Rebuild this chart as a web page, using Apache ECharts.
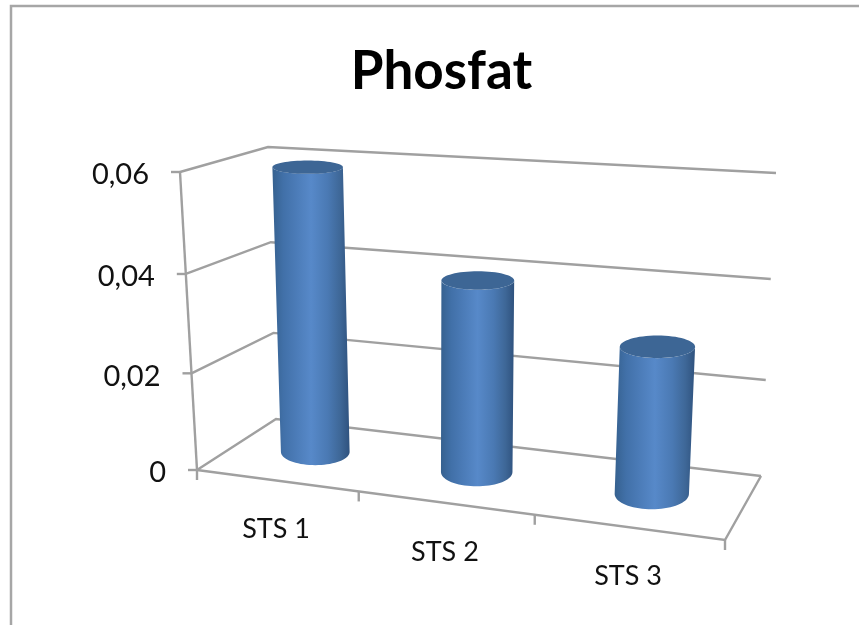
<!DOCTYPE html>
<html>
<head>
<meta charset="utf-8">
<style>html,body{margin:0;padding:0;background:#fff}#c{width:859px;height:625px;filter:blur(0.45px)}</style>
<script src="https://cdn.jsdelivr.net/npm/echarts@6/dist/echarts.min.js"></script>
</head>
<body>
<div id="c"></div>
<script>
const titleText = 'Phosfat';
const categories = ['STS 1', 'STS 2', 'STS 3'];
const values = [0.0592, 0.0392, 0.0293];
const yTicks = [0, 0.02, 0.04, 0.06];
const yTickLabels = ['0', '0,02', '0,04', '0,06'];

// Picture-plane corners of the 3D box: [x, y] at value 0 and at axis max
const FL = [[197, 470], [180, 172]];
const FR = [[725, 540], [745, 208]];
const BL = [[276, 419], [268, 147]];
const BR = [[761, 476], [776, 173]];
const GRID = '#a0a0a0';
const FONT = 'Lato';

const lerp = (a, b, t) => [a[0] + (b[0] - a[0]) * t, a[1] + (b[1] - a[1]) * t];
const warp = t => 0.8785 * t + 0.1215 * t * t;
// perspective foreshortening of the height axis, stronger towards the back wall
const warpY = (t, d) => { const b = -0.04 - 0.035 * d; return (1 - b) * t + b * t * t; };
function project(tx, ty, d) {
  const s = warp(tx);
  const vf = 1 - warpY(ty, 0), vb = 1 - warpY(ty, 1);
  const front = lerp(lerp(FL[0], FR[0], s), lerp(FL[1], FR[1], s), vf);
  const back = lerp(lerp(BL[0], BR[0], s), lerp(BL[1], BR[1], s), vb);
  return lerp(front, back, d);
}
function norm(params, api, catIdx, value, shift) {
  const cs = params.coordSys;
  const c = api.coord([catIdx, value]);
  return [(c[0] + (shift || 0) * api.size([1, 0])[0] - cs.x) / cs.width, (c[1] - cs.y) / cs.height];
}
const line = (pts, w) => ({
  type: 'polyline', shape: { points: pts },
  style: { stroke: GRID, lineWidth: w || 2.4, fill: null }, silent: true
});

function renderWall(params, api) {
  const v = api.value(0);
  const [, ty] = norm(params, api, 0, v);
  const a = project(0, ty, 0), b = project(0, ty, 1), c = project(1, ty, 1);
  const children = [
    line([a, b, c]),
    line([[a[0] - 9, a[1]], a])
  ];
  children.push({
    type: 'text',
    style: {
      text: yTickLabels[params.dataIndex], x: a[0] - 31, y: a[1] + 3,
      align: 'right', verticalAlign: 'middle',
      font: '29px ' + FONT, fill: '#111'
    }
  });
  if (params.dataIndex === 0) {
    const f = project(1, ty, 0);
    children.push(line([a, f, c]));
    children.push(line([a, [a[0], a[1] + 10]]));
    children.push(line([f, [f[0], f[1] + 10]]));
  }
  if (params.dataIndex === yTicks.length - 1) {
    children.push(line([a, project(0, 1, 0)]));
  }
  return { type: 'group', children };
}

function renderCats(params, api) {
  const i = params.dataIndex;
  const mid = norm(params, api, i, 0);
  const right = norm(params, api, i, 0, 0.5);
  const p = project(mid[0], 1, 0);
  const t = project(right[0], 1, 0);
  const children = [{
    type: 'text',
    style: {
      text: categories[i], x: p[0], y: p[1] + 49,
      align: 'center', verticalAlign: 'middle',
      font: '27px ' + FONT, fill: '#111'
    }
  }];
  if (i < categories.length - 1) children.push(line([t, [t[0], t[1] + 10]]));
  return { type: 'group', children };
}

function renderBar(params, api) {
  const i = params.dataIndex;
  const val = api.value(1);
  const n0 = norm(params, api, i, 0);
  const n1 = norm(params, api, i, val);
  const cw = api.size([1, 0])[0] / params.coordSys.width;
  const D = 0.54, W = 0.205, R = 0.25, MEAN_RX = 37;
  const cyl = (tx, ty) => {
    const c = project(tx, ty, D);
    const local = (project(tx + W * cw, ty, D)[0] - project(tx - W * cw, ty, D)[0]) / 2;
    const rx = (local + MEAN_RX) / 2;
    const ry = (project(tx, ty, D - R)[1] - project(tx, ty, D + R)[1]) / 2;
    return { c, rx, ry };
  };
  const bot = cyl(n0[0], n0[1]), top = cyl(n1[0], n1[1]);
  const pts = [];
  const N = 36;
  for (let k = 0; k <= N; k++) {
    const a = Math.PI * k / N;
    pts.push([bot.c[0] + bot.rx * Math.cos(a), bot.c[1] + bot.ry * Math.sin(a)]);
  }
  for (let k = 0; k <= N; k++) {
    const a = Math.PI * k / N;
    pts.push([top.c[0] - top.rx * Math.cos(a), top.c[1] + top.ry * Math.sin(a)]);
  }
  return {
    type: 'group',
    children: [
      {
        type: 'polygon', shape: { points: pts },
        style: {
          fill: new echarts.graphic.LinearGradient(0, 0, 1, 0, [
            { offset: 0, color: '#36618f' },
            { offset: 0.14, color: '#4170a8' },
            { offset: 0.3, color: '#4b7bb7' },
            { offset: 0.5, color: '#5789c9' },
            { offset: 0.72, color: '#4a79b3' },
            { offset: 0.88, color: '#3e6797' },
            { offset: 1, color: '#2f527e' }
          ])
        }
      },
      {
        type: 'ellipse',
        shape: { cx: top.c[0], cy: top.c[1], rx: top.rx, ry: top.ry },
        style: { fill: '#3d6695' }
      }
    ]
  };
}

const chart = echarts.init(document.getElementById('c'), null, { renderer: 'canvas' });
chart.setOption({
  animation: false,
  backgroundColor: '#fff',
  title: {
    text: titleText, left: 436.5, top: 40, textAlign: 'center',
    textStyle: { fontFamily: FONT, fontSize: 53, fontWeight: 'bold', color: '#000' }
  },
  graphic: [{
    type: 'polyline', silent: true,
    shape: { points: [[11, 625], [11, 6], [859, 6]] },
    style: { stroke: '#a6a6a6', lineWidth: 2.5, fill: null }
  }],
  grid: { left: 100, right: 100, top: 100, bottom: 100 },
  xAxis: { type: 'category', data: categories, show: false },
  yAxis: { type: 'value', min: 0, max: 0.06, interval: 0.02, show: false },
  series: [
    { type: 'custom', renderItem: renderWall, coordinateSystem: 'cartesian2d', clip: false, silent: true, z: 1,
      data: yTicks.map(v => [v]), encode: { y: 0 } },
    { type: 'custom', renderItem: renderCats, coordinateSystem: 'cartesian2d', clip: false, silent: true, z: 2,
      data: categories.map((c, i) => [i]), encode: { x: 0 } },
    { type: 'custom', renderItem: renderBar, coordinateSystem: 'cartesian2d', clip: false, silent: true, z: 3,
      data: values.map((v, i) => [i, v]), encode: { x: 0, y: 1 } }
  ]
});
</script>
</body>
</html>
